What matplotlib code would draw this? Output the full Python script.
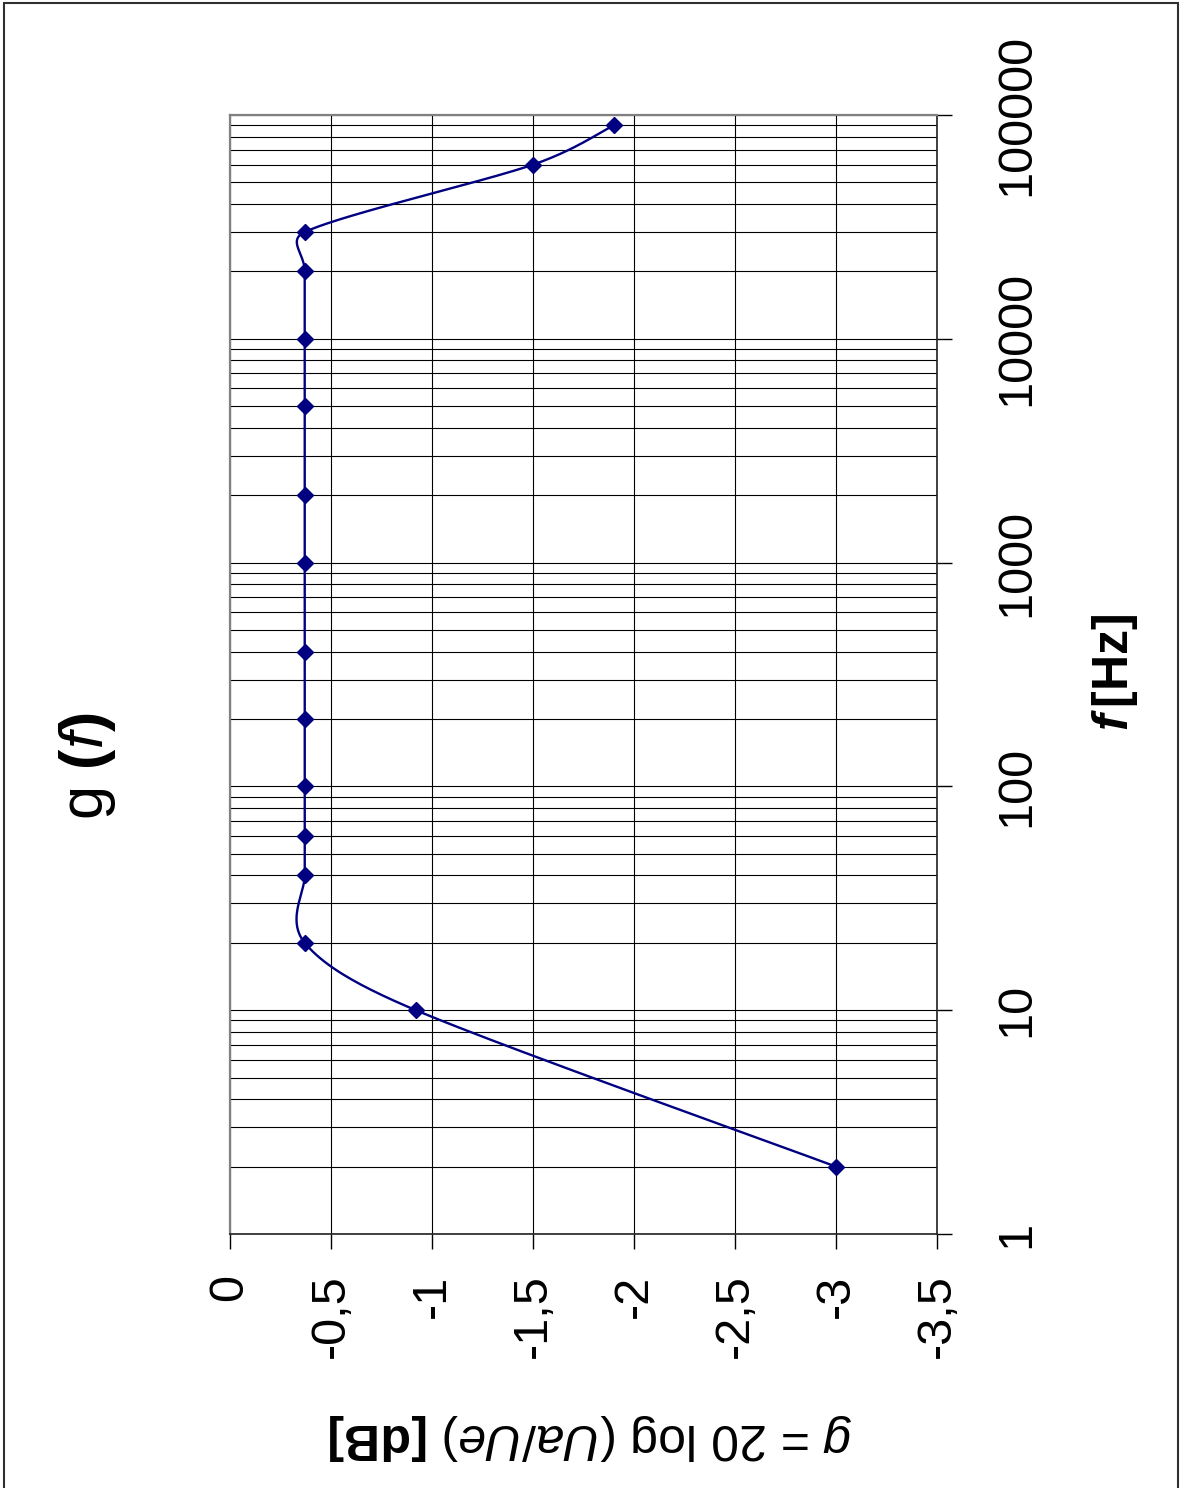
import numpy as np
import matplotlib
matplotlib.use("Agg")
import matplotlib.pyplot as plt
from matplotlib.patches import Rectangle
from matplotlib.ticker import LogLocator, NullFormatter

plt.rcParams['font.family'] = ['Liberation Sans', 'DejaVu Sans']
plt.rcParams['mathtext.fontset'] = 'custom'
plt.rcParams['mathtext.rm'] = 'Liberation Sans'
plt.rcParams['mathtext.it'] = 'Liberation Sans:italic'
plt.rcParams['mathtext.bf'] = 'Liberation Sans:bold'
plt.rcParams['mathtext.bfit'] = 'Liberation Sans:italic:bold'

# ---- data ----
freq_hz = [2, 10, 20, 40, 60, 100, 200, 400, 1000, 2000, 5000, 10000, 20000, 30000, 60000, 90000]
gain_db = [-3.0, -0.92, -0.37, -0.37, -0.37, -0.37, -0.37, -0.37, -0.37, -0.37, -0.37, -0.37, -0.37, -0.37, -1.5, -1.9]

g_ticks = [0, -0.5, -1, -1.5, -2, -2.5, -3, -3.5]
g_labels = ["0", "-0,5", "-1", "-1,5", "-2", "-2,5", "-3", "-3,5"]
f_ticks = [1, 10, 100, 1000, 10000, 100000]
f_labels = ["1", "10", "100", "1000", "10000", "100000"]

title_text = "g $\\mathbf{(}\\mathit{f}\\mathbf{)}$"
f_axis_text = "$\\mathbfit{f}\\,$[Hz]"
g_axis_text = "$\\mathit{g}$ = 20 log $\\mathit{(Ua/Ue)}$ $\\mathbf{[dB]}$"

navy = '#000080'

W, H = 1180, 1488
L, R, T, B = 230, 937, 115, 1234
px_per_g = (R - L) / 3.5
px_per_dec = (B - T) / 5.0

# ---- smoothed line (Excel-like Bezier smoothing), computed in screen-proportional space ----
def smooth(xs, ys, n=40):
    P = np.column_stack([np.asarray(xs, float) * px_per_g,
                         np.asarray(ys, float) * px_per_dec])
    out = [P[0]]
    m = len(P)
    for i in range(m - 1):
        p0 = P[i - 1] if i > 0 else P[i]
        p1 = P[i]
        p2 = P[i + 1]
        p3 = P[i + 2] if i + 2 < m else P[i + 1]
        seg = np.linalg.norm(p2 - p1)
        v1 = (p2 - p0) / 6.0
        v2 = (p3 - p1) / 6.0
        for v in (v1, v2):
            nv = np.linalg.norm(v)
            if nv > seg / 2 and nv > 0:
                v *= (seg / 2) / nv
        c1 = p1 + v1
        c2 = p2 - v2
        t = np.linspace(0, 1, n)[1:, None]
        b = ((1 - t) ** 3) * p1 + 3 * ((1 - t) ** 2) * t * c1 + 3 * (1 - t) * t ** 2 * c2 + t ** 3 * p2
        out.extend(b)
    out = np.array(out)
    return out[:, 0] / px_per_g, out[:, 1] / px_per_dec

sx, sy = smooth(gain_db, np.log10(freq_hz))

fig = plt.figure(figsize=(W / 100, H / 100), dpi=100)
ax = fig.add_axes([L / W, 1 - B / H, (R - L) / W, (B - T) / H])

ax.set_yscale('log')
ax.set_ylim(1, 100000)
ax.set_xlim(0, -3.5)

ax.plot(sx, 10 ** sy, color=navy, lw=1.7, zorder=3)
ax.plot(gain_db, freq_hz, linestyle='none', marker='D', markersize=8,
        color=navy, zorder=4, clip_on=False)

# frequency axis on the right
ax.yaxis.tick_right()
ax.set_yticks(f_ticks)
ax.set_yticklabels(f_labels, rotation=90, va='center', ha='left')
ax.yaxis.set_minor_locator(LogLocator(base=10, subs=np.arange(2, 10)))
ax.yaxis.set_minor_formatter(NullFormatter())
ax.tick_params(axis='y', which='major', direction='out', length=11, width=1,
               pad=30, labelsize=35, colors='black')
ax.tick_params(axis='y', which='minor', length=0)

# gain axis at the bottom
ax.set_xticks(g_ticks)
ax.set_xticklabels(g_labels, rotation=90, ha='center', va='top')
ax.tick_params(axis='x', which='major', direction='out', length=11, width=1,
               pad=18, labelsize=35)

ax.grid(True, which='both', axis='y', color='black', lw=0.8)
ax.grid(True, which='major', axis='x', color='black', lw=0.8)
ax.set_axisbelow(True)

for s in ['left', 'top']:
    ax.spines[s].set_color('#808080')
    ax.spines[s].set_linewidth(1.6)
for s in ['right', 'bottom']:
    ax.spines[s].set_color('#202020')
    ax.spines[s].set_linewidth(1.2)

# texts
fig.text(88 / W, 1 - 766 / H, title_text, rotation=90, ha='center', va='center', fontsize=44)
fig.text(1115 / W, 1 - 672 / H, f_axis_text, rotation=90, ha='center', va='center',
         fontsize=36, fontweight='bold')
fig.text(590 / W, 1 - 1437 / H, g_axis_text, rotation=180, ha='center', va='center',
         fontsize=36)

# outer chart border
fig.add_artist(Rectangle((4 / W, -0.01), (1178 - 4) / W, 1 - 3 / H + 0.01,
                         transform=fig.transFigure, fill=False,
                         edgecolor='#303030', lw=1.5))

fig.savefig('out.png', dpi=100)
